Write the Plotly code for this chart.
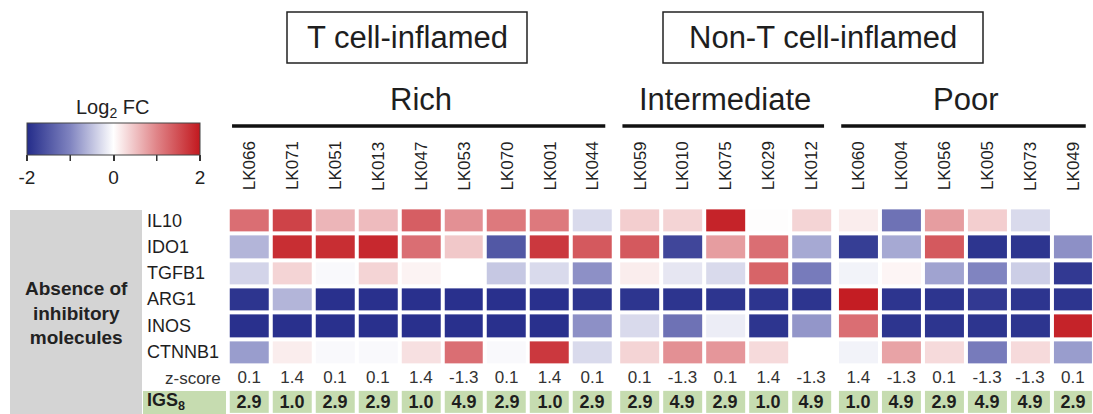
import plotly.graph_objects as go

W, H = 1093, 414
FONT = "Liberation Sans, Arial, Helvetica, sans-serif"

# ---- data -------------------------------------------------------------
group_names = ["Rich", "Intermediate", "Poor"]
rich_samples = ["LK066", "LK071", "LK051", "LK013", "LK047", "LK053", "LK070", "LK001", "LK044"]
intermediate_samples = ["LK059", "LK010", "LK075", "LK029", "LK012"]
poor_samples = ["LK060", "LK004", "LK056", "LK005", "LK073", "LK049"]

genes = ["IL10", "IDO1", "TGFB1", "ARG1", "INOS", "CTNNB1"]

# log2 fold change per gene, samples in the order Rich | Intermediate | Poor
il10 = [1.2, 1.6, 0.6, 0.55, 1.35, 0.9, 1.1, 1.1, -0.3,
        0.4, 0.35, 1.9, 0.02, 0.35,
        0.15, -1.2, 0.8, 0.4, -0.3, 0.0]
ido1 = [-0.6, 1.8, 1.8, 1.85, 1.2, 0.45, -1.5, 1.7, 1.4,
        1.4, -1.7, 0.8, 1.2, -0.7,
        -1.8, -0.7, 1.4, -1.9, -1.9, -0.9]
tgfb1 = [-0.35, 0.35, -0.05, 0.35, 0.1, 0.0, -0.45, -0.3, -0.9,
         0.15, -0.2, -0.3, 1.3, -1.1,
         -0.1, 0.08, -0.75, -1.0, -0.4, -1.85]
arg1 = [-1.9, -0.6, -1.95, -1.95, -1.95, -1.95, -1.95, -1.95, -1.9,
        -1.9, -1.9, -1.9, -1.9, -1.9,
        1.95, -1.9, -1.9, -1.85, -1.9, -1.9]
inos = [-1.95, -1.95, -1.95, -1.95, -1.95, -1.95, -1.95, -1.95, -0.9,
        -0.3, -1.2, -0.15, -1.9, -0.85,
        1.2, -1.9, -1.9, -1.9, -1.9, 1.9]
ctnnb1 = [-0.8, 0.15, -0.05, -0.05, 0.25, 1.2, -0.05, 1.7, -0.3,
          0.35, 0.9, 0.85, 0.3, 0.0,
          -0.1, 0.75, 0.3, -1.1, 0.3, -0.8]

z_score = [0.1, 1.4, 0.1, 0.1, 1.4, -1.3, 0.1, 1.4, 0.1,
           0.1, -1.3, 0.1, 1.4, -1.3,
           1.4, -1.3, 0.1, -1.3, -1.3, 0.1]
igs8 = [2.9, 1.0, 2.9, 2.9, 1.0, 4.9, 2.9, 1.0, 2.9,
        2.9, 4.9, 2.9, 1.0, 4.9,
        1.0, 4.9, 2.9, 4.9, 4.9, 2.9]

colorbar_ticks = [-2, 0, 2]
colorbar_tick_text = ["-2", "0", "2"]
colorbar_minor_ticks = [-1, 1]

# ---- geometry ---------------------------------------------------------
COL0_PX, COL_PITCH = 249.2, 42.9   # centre of first column, column pitch (px)
ROW0_PX, ROW_PITCH = 220.5, 26.3   # centre of first row, row pitch (px)
GROUP_GAP = 0.1                    # extra spacing between groups (column units)
ZROW, IGSROW = 6, 6.9
CB_X0, CB_X1, CB_TOP, CB_THICK = 27, 200, 123, 32   # colour bar box (px)


def px_x(p):
    return p / W


def px_y(p):
    return 1 - p / H


groups = [rich_samples, intermediate_samples, poor_samples]
matrix = [il10, ido1, tgfb1, arg1, inos, ctnnb1]

samples, xpos, group_slices = [], [], []
start = 0
for g, members in enumerate(groups):
    idx = list(range(start, start + len(members)))
    group_slices.append(idx)
    samples.extend(members)
    xpos.extend(i + GROUP_GAP * g for i in idx)
    start += len(members)

fig = go.Figure()

cscale = [[0.0, "rgb(36,44,138)"], [0.25, "rgb(128,132,192)"], [0.5, "rgb(255,255,255)"],
          [0.75, "rgb(224,132,136)"], [1.0, "rgb(194,24,30)"]]

for idx in group_slices:
    fig.add_trace(go.Heatmap(
        x=[xpos[i] for i in idx],
        y=list(range(len(genes))),
        z=[[row[i] for i in idx] for row in matrix],
        coloraxis="coloraxis",
        xgap=4, ygap=4,
        hoverinfo="skip",
    ))
    # IGS8 score row, green cells with bold values
    fig.add_trace(go.Heatmap(
        x=[xpos[i] for i in idx],
        y=[IGSROW],
        z=[[igs8[i] for i in idx]],
        colorscale=[[0, "#c6dcb0"], [1, "#c6dcb0"]],
        showscale=False,
        xgap=4, ygap=4,
        texttemplate="<b>%{z:.1f}</b>",
        textfont=dict(family=FONT, size=18, color="#1e1e1e"),
        hoverinfo="skip",
    ))

# z-score row
fig.add_trace(go.Scatter(
    x=xpos, y=[ZROW] * len(xpos), mode="text",
    text=[f"{v:.1f}" for v in z_score],
    textfont=dict(family=FONT, size=17, color="#333333"),
    hoverinfo="skip", showlegend=False,
))

shapes, ann = [], []

# grey side panel and IGS label cell
shapes.append(dict(type="rect", xref="paper", yref="paper",
                   x0=px_x(10), x1=px_x(142), y0=px_y(414), y1=px_y(210),
                   fillcolor="#d4d4d4", line=dict(width=0), layer="below"))
shapes.append(dict(type="rect", xref="paper", yref="y",
                   x0=px_x(143), x1=px_x(226), y0=IGSROW - 0.42, y1=IGSROW + 0.5,
                   fillcolor="#c6dcb0", line=dict(width=0), layer="below"))

ann.append(dict(text="<b>Absence of<br>inhibitory<br>molecules</b>", xref="paper", yref="paper",
                x=px_x(76), y=px_y(313), xanchor="center", yanchor="middle",
                showarrow=False, align="center",
                font=dict(family=FONT, size=19, color="#222")))

for r, gname in enumerate(genes):
    ann.append(dict(text=gname, xref="paper", yref="y", x=px_x(145), y=r,
                    xanchor="left", yanchor="middle", showarrow=False,
                    font=dict(family=FONT, size=18, color="#1e1e1e")))
ann.append(dict(text="z-score", xref="paper", yref="y", x=px_x(223), y=ZROW,
                xanchor="right", yanchor="middle", showarrow=False,
                font=dict(family=FONT, size=17, color="#333")))
ann.append(dict(text="<b>IGS<sub>8</sub></b>", xref="paper", yref="y", x=px_x(145), y=IGSROW,
                xanchor="left", yanchor="middle", showarrow=False,
                font=dict(family=FONT, size=18, color="#1e1e1e")))

# sample labels
for s, xp in zip(samples, xpos):
    ann.append(dict(text=s, xref="x", yref="paper", x=xp, y=px_y(166), textangle=-90,
                    xanchor="center", yanchor="middle", showarrow=False,
                    font=dict(family=FONT, size=17, color="#222")))

# group labels and underlines
for gname, idx in zip(group_names, group_slices):
    x_first, x_last = xpos[idx[0]], xpos[idx[-1]]
    shapes.append(dict(type="line", xref="x", yref="paper",
                       x0=x_first - 0.4, x1=x_last + 0.3, y0=px_y(126), y1=px_y(126),
                       line=dict(color="#111", width=3.5)))
    ann.append(dict(text=gname, xref="x", yref="paper", x=(x_first + x_last) / 2, y=px_y(100),
                    xanchor="center", yanchor="middle", showarrow=False,
                    font=dict(family=FONT, size=31, color="#1e1e1e")))

# boxed phenotype headers
for label, x0, x1 in [("T cell-inflamed", 287, 527), ("Non-T cell-inflamed", 663, 983)]:
    shapes.append(dict(type="rect", xref="paper", yref="paper",
                       x0=px_x(x0), x1=px_x(x1), y0=px_y(63), y1=px_y(12),
                       line=dict(color="#222", width=1.5), fillcolor="rgba(0,0,0,0)"))
    ann.append(dict(text=label, xref="paper", yref="paper", x=px_x((x0 + x1) / 2), y=px_y(38),
                    xanchor="center", yanchor="middle", showarrow=False,
                    font=dict(family=FONT, size=31, color="#1e1e1e")))

# colour bar title and the unlabeled tick marks at -1 and 1
ann.append(dict(text="Log<sub>2</sub> FC", xref="paper", yref="paper", x=px_x(112), y=px_y(108),
                xanchor="center", yanchor="middle", showarrow=False,
                font=dict(family=FONT, size=20, color="#222")))
for v in colorbar_minor_ticks:
    tx = CB_X0 + (CB_X1 - CB_X0) * (v + 2) / 4
    shapes.append(dict(type="line", xref="paper", yref="paper",
                       x0=px_x(tx), x1=px_x(tx),
                       y0=px_y(CB_TOP + CB_THICK), y1=px_y(CB_TOP + CB_THICK + 6),
                       line=dict(color="#333", width=1.5)))

fig.update_layout(
    width=W, height=H,
    margin=dict(l=0, r=0, t=0, b=0),
    paper_bgcolor="white", plot_bgcolor="white",
    showlegend=False,
    xaxis=dict(range=[(0 - COL0_PX) / COL_PITCH, (W - COL0_PX) / COL_PITCH],
               visible=False, fixedrange=True),
    yaxis=dict(range=[(H - ROW0_PX) / ROW_PITCH, (0 - ROW0_PX) / ROW_PITCH],
               visible=False, fixedrange=True),
    coloraxis=dict(
        cmin=-2, cmax=2, colorscale=cscale,
        colorbar=dict(
            orientation="h", x=px_x((CB_X0 + CB_X1) / 2), xanchor="center",
            y=px_y(CB_TOP), yanchor="top",
            len=CB_X1 - CB_X0, lenmode="pixels", thickness=CB_THICK, thicknessmode="pixels",
            outlinewidth=1, outlinecolor="#444", xpad=0, ypad=0,
            tickvals=colorbar_ticks, ticktext=colorbar_tick_text,
            ticks="outside", ticklen=6, tickwidth=1.5, tickcolor="#333",
            tickfont=dict(family=FONT, size=19, color="#222"),
        ),
    ),
    shapes=shapes, annotations=ann,
)

fig.write_html("out.html")
